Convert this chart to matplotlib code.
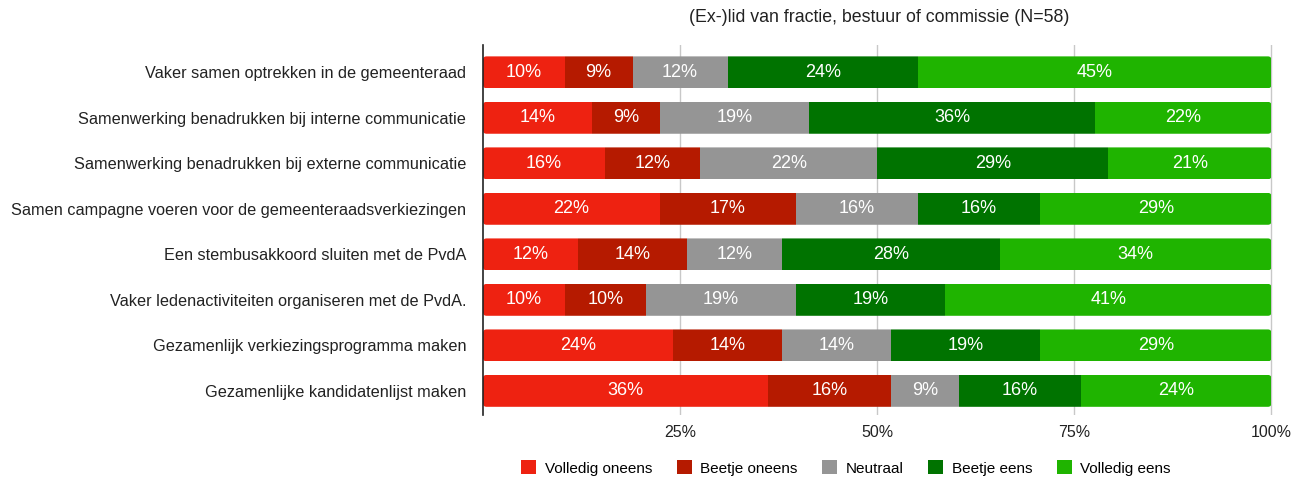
import numpy as np
import matplotlib.pyplot as plt
from matplotlib.patches import FancyBboxPatch

# antwoorden (aantal van N=58) per stelling
stellingen = [
    'Vaker samen optrekken in de gemeenteraad',
    'Samenwerking benadrukken bij interne communicatie',
    'Samenwerking benadrukken bij externe communicatie',
    'Samen campagne voeren voor de gemeenteraadsverkiezingen',
    'Een stembusakkoord sluiten met de PvdA',
    'Vaker ledenactiviteiten organiseren met de PvdA.',
    'Gezamenlijk verkiezingsprogramma maken',
    'Gezamenlijke kandidatenlijst maken',
]
categorieen = ['Volledig oneens', 'Beetje oneens', 'Neutraal', 'Beetje eens', 'Volledig eens']
volledig_oneens = [6, 8, 9, 13, 7, 6, 14, 21]
beetje_oneens = [5, 5, 7, 10, 8, 6, 8, 9]
neutraal = [7, 11, 13, 9, 7, 11, 8, 5]
beetje_eens = [14, 21, 17, 9, 16, 11, 11, 9]
volledig_eens = [26, 13, 12, 17, 20, 24, 17, 14]
N = 58
kleuren = ['#ee2211', '#b51a00', '#959595', '#007300', '#1fb400']

plt.rcParams['font.family'] = ['Liberation Sans', 'DejaVu Sans']

fig = plt.figure(figsize=(13.04, 4.79), dpi=100)
ax = fig.add_axes([483 / 1304, 1 - 415 / 479, 790 / 1304, 370 / 479])

data = np.array([volledig_oneens, beetje_oneens, neutraal, beetje_eens, volledig_eens]) / N * 100
y = np.arange(len(stellingen))
left = np.zeros(len(stellingen))
hoogte = 0.7

ax.set_xlim(0, 100.2)
ax.set_ylim(7.53, -0.6)

for k in [25, 50, 75, 100]:
    ax.axvline(k, color='#c8c8c8', lw=1, zorder=0)

# afgeronde hoeken via clip-pad per balk
aspect = (8.13 / 370) / (100.2 / 790)
clips = []
for j in range(len(y)):
    p = FancyBboxPatch((0, y[j] - hoogte / 2), 100, hoogte,
                       boxstyle='round,pad=0,rounding_size=0.45',
                       mutation_aspect=aspect, transform=ax.transData)
    clips.append(p)

for i, cat in enumerate(categorieen):
    bars = ax.barh(y, data[i], left=left, height=hoogte, color=kleuren[i], label=cat, zorder=2)
    for j, b in enumerate(bars):
        b.set_clip_path(clips[j])
        ax.text(left[j] + data[i][j] / 2, y[j], f'{data[i][j]:.0f}%', ha='center', va='center',
                color='white', fontsize=13, zorder=3)
    left += data[i]

ax.set_yticks(y)
ax.set_yticklabels(stellingen, fontsize=11.7, color='#222222')
ax.set_xticks([25, 50, 75, 100])
ax.set_xticklabels(['25%', '50%', '75%', '100%'], fontsize=11.5, color='#222222')
ax.tick_params(axis='both', length=0)
ax.tick_params(axis='x', pad=7)
ax.tick_params(axis='y', pad=12)

for s in ['top', 'right', 'bottom']:
    ax.spines[s].set_visible(False)
ax.spines['left'].set_color('#222222')
ax.spines['left'].set_linewidth(1.2)

fig.text(879 / 1304, 1 - 18 / 479, '(Ex-)lid van fractie, bestuur of commissie (N=58)',
         ha='center', va='center', fontsize=12.8, color='#222222')

fig.legend(loc='center', bbox_to_anchor=(846 / 1304, 1 - 468 / 479), ncol=5, frameon=False,
           fontsize=11, handlelength=1.0, handleheight=1.0, columnspacing=1.6, handletextpad=0.55)

plt.savefig('out.png', dpi=100)
